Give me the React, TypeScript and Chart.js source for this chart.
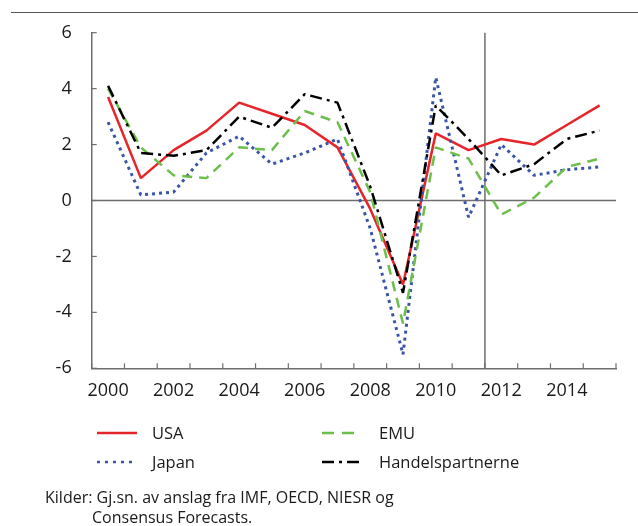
import React, { useEffect, useRef } from 'react';
import { Chart, registerables } from 'chart.js';

Chart.register(...registerables);

const years = ['2000', '2001', '2002', '2003', '2004', '2005', '2006', '2007', '2008', '2009', '2010', '2011', '2012', '2013', '2014', '2015'];
const usa = [3.7, 0.8, 1.8, 2.5, 3.5, 3.1, 2.7, 1.9, -0.3, -3.0, 2.4, 1.8, 2.2, 2.0, 2.7, 3.4];
const japan = [2.8, 0.2, 0.3, 1.7, 2.3, 1.3, 1.7, 2.2, -1.0, -5.5, 4.4, -0.6, 2.0, 0.9, 1.1, 1.2];
const emu = [4.0, 1.9, 0.9, 0.8, 1.9, 1.8, 3.2, 2.8, 0.3, -4.4, 1.9, 1.5, -0.5, 0.1, 1.2, 1.5];
const handelspartnerne = [4.1, 1.7, 1.6, 1.8, 3.0, 2.6, 3.8, 3.5, 0.5, -3.3, 3.4, 2.2, 0.9, 1.3, 2.2, 2.5];
const yTickValues = [-6, -4, -2, 0, 2, 4, 6];
const dividerYear = '2012';

const FONT = '"Open Sans", "Noto Sans", sans-serif';
const AXIS = '#6e6e6e';
const TEXT = '#1a1a1a';
const RED = '#e8242b';
const GREEN = '#6cbf4a';
const BLUE = '#3a55a8';
const BLACK = '#000000';

const decorPlugin = {
  id: 'decor',
  beforeDatasetsDraw(chart: any) {
    const { ctx, chartArea, scales } = chart;
    const { left, right, top, bottom } = chartArea;
    const x = scales.x;
    const y = scales.y;
    const half = (x.getPixelForValue(1) - x.getPixelForValue(0)) / 2;
    const seg = (x1: number, y1: number, x2: number, y2: number) => {
      ctx.beginPath();
      ctx.moveTo(x1, y1);
      ctx.lineTo(x2, y2);
      ctx.stroke();
    };
    ctx.save();
    ctx.strokeStyle = AXIS;
    ctx.lineWidth = 1.5;
    const y0 = y.getPixelForValue(0);
    seg(left, y0, right, y0);
    const xd = x.getPixelForValue(years.indexOf(dividerYear)) - half;
    seg(xd, top, xd, bottom);
    ctx.lineWidth = 1.2;
    yTickValues.forEach((v) => {
      const py = y.getPixelForValue(v);
      seg(left, py, left + 5, py);
    });
    for (let i = 0; i <= years.length; i++) {
      const px = x.getPixelForValue(i) - half;
      seg(px, bottom, px, bottom - 5);
    }
    ctx.restore();
  },
};

function Sample({ color, dash, width = 2.5 }: { color: string; dash?: string; width?: number }) {
  return (
    <svg width={40} height={8} style={{ display: 'block' }}>
      <line x1={0} y1={4} x2={40} y2={4} stroke={color} strokeWidth={width} strokeDasharray={dash} />
    </svg>
  );
}

export default function App() {
  const ref = useRef<HTMLCanvasElement>(null);

  useEffect(() => {
    if (!ref.current) return;
    const common = { pointRadius: 0, tension: 0, borderJoinStyle: 'bevel' as const };
    const chart = new Chart(ref.current, {
      type: 'line',
      data: {
        labels: years,
        datasets: [
          { label: 'Handelspartnerne', data: handelspartnerne, borderColor: BLACK, borderWidth: 2.5, borderDash: [12, 5, 3, 5], ...common },
          { label: 'EMU', data: emu, borderColor: GREEN, borderWidth: 2.5, borderDash: [10, 7], ...common },
          { label: 'Japan', data: japan, borderColor: BLUE, borderWidth: 3, borderDash: [3, 4], ...common },
          { label: 'USA', data: usa, borderColor: RED, borderWidth: 2.5, ...common },
        ],
      },
      options: {
        responsive: false,
        animation: false,
        events: [],
        layout: { padding: { left: 0, right: 22, top: 32.7, bottom: 127.7 } },
        plugins: { legend: { display: false }, tooltip: { enabled: false } },
        scales: {
          x: {
            type: 'category',
            offset: true,
            grid: { display: false },
            border: { display: true, color: AXIS, width: 1.5 },
            ticks: {
              autoSkip: false,
              maxRotation: 0,
              padding: 4,
              color: TEXT,
              font: { family: FONT, size: 18 },
              callback: (_v: any, i: number) => (i % 2 === 0 ? years[i] : ''),
            },
            afterFit: (s: any) => { s.height = 30; },
          },
          y: {
            min: -6,
            max: 6,
            grid: { display: false },
            border: { display: true, color: AXIS, width: 1.5 },
            ticks: {
              stepSize: 2,
              padding: 12,
              color: TEXT,
              font: { family: FONT, size: 18 },
            },
            afterFit: (s: any) => { s.width = 91.7; },
          },
        },
      },
      plugins: [decorPlugin],
    });
    return () => chart.destroy();
  }, []);

  const textStyle: React.CSSProperties = { fontFamily: FONT, fontSize: 16.5, color: TEXT, position: 'absolute', whiteSpace: 'nowrap', lineHeight: '20px' };
  const footStyle: React.CSSProperties = { ...textStyle, fontSize: 16 };

  return (
    <div style={{ position: 'fixed', left: 0, top: 0, width: 638, height: 526, background: '#fff', overflow: 'hidden' }}>
      <div style={{ position: 'absolute', left: 11, top: 11.5, width: 627, height: 1.5, background: '#555' }} />
      <canvas ref={ref} width={638} height={526} style={{ position: 'absolute', left: 0, top: 0 }} />
      <div style={{ position: 'absolute', left: 97, top: 429 }}><Sample color={RED} /></div>
      <div style={{ ...textStyle, left: 152, top: 423 }}>USA</div>
      <div style={{ position: 'absolute', left: 97, top: 458 }}><Sample color={BLUE} dash="3 5" width={2.5} /></div>
      <div style={{ ...textStyle, left: 152, top: 452 }}>Japan</div>
      <div style={{ position: 'absolute', left: 322, top: 429 }}><Sample color={GREEN} dash="12 8" /></div>
      <div style={{ ...textStyle, left: 379, top: 423 }}>EMU</div>
      <div style={{ position: 'absolute', left: 322, top: 458 }}><Sample color={BLACK} dash="12 5 3 5" /></div>
      <div style={{ ...textStyle, left: 379, top: 452 }}>Handelspartnerne</div>
      <div style={{ ...footStyle, left: 45, top: 487 }}>Kilder: Gj.sn. av anslag fra IMF, OECD, NIESR og</div>
      <div style={{ ...footStyle, left: 92, top: 507 }}>Consensus Forecasts.</div>
    </div>
  );
}
